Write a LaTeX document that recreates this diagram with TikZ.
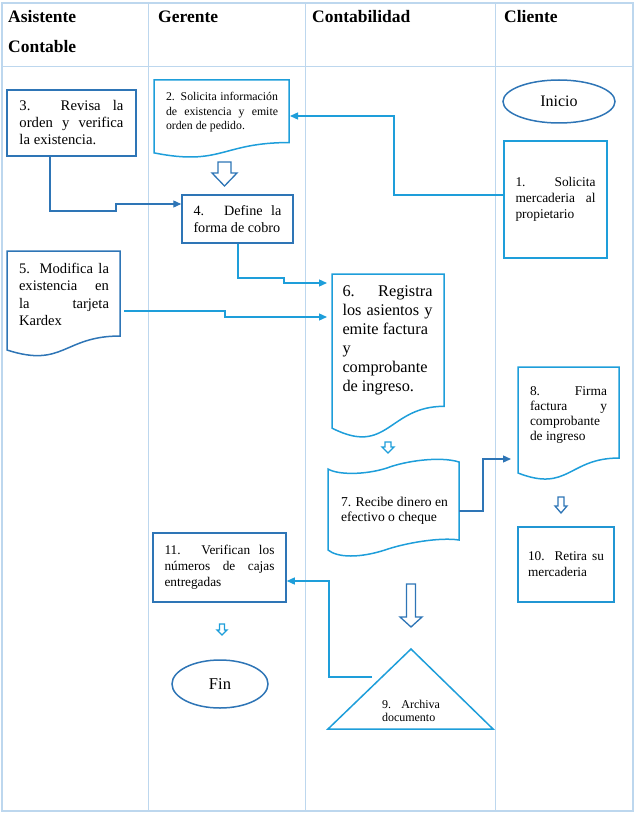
\documentclass[tikz,border=0pt]{standalone}
\usepackage{fontspec}
\setmainfont{Liberation Serif}
\usetikzlibrary{arrows.meta,shapes.geometric}
\definecolor{darkb}{RGB}{46,117,182}
\definecolor{lightb}{RGB}{30,158,218}
\definecolor{gridc}{RGB}{189,215,238}
\newcommand\fsz[2]{\fontsize{#1}{#2}\selectfont\hyphenpenalty=10000\relax}
\newcommand\docshape[5]{\draw[#5] (#1,#2) -- ({#1+#3},#2) -- ({#1+#3},{#2+0.802*#4}) .. controls ({#1+#3/2},{#2+0.802*#4}) and ({#1+#3/2},{#2+1.107*#4}) .. (#1,{#2+0.934*#4}) -- cycle;}
\newcommand\hollowarr[7]{\draw[draw=#7, line width=1.3pt, fill=white, line join=miter] ({#1-#5},#2) -- ({#1+#5},#2) -- ({#1+#5},#3) -- ({#1+#6},#3) -- (#1,#4) -- ({#1-#6},#3) -- ({#1-#5},#3) -- cycle;}
\tikzset{
  frameline/.style={draw=gridc, line width=0.9pt},
  hdr/.style={font=\fsz{17.5}{30}\bfseries, inner sep=0pt, anchor=base west},
  rbox/.style={draw, line width=1.5pt, inner sep=0pt, align=justify},
  shapeline/.style={line width=1.5pt},
  txt/.style={inner sep=0pt, align=justify},
  conn/.style={line width=1.3pt, -{Triangle[length=8pt,width=7pt]}},
}
\begin{document}
\begin{tikzpicture}[x=1pt,y=-1pt]
\useasboundingbox (0,0) rectangle (635,813);
% table
\draw[frameline, line width=1.6pt] (2,3) rectangle (633,811);
\foreach \xx in {148.5,305,495} \draw[frameline] (\xx,3) -- (\xx,811);
\draw[frameline] (2,66) -- (633,66);
\node[hdr] (h1) at (8,23) {Asistente};
\node[hdr] (h1b) at (8,53) {Contable};
\node[hdr] (h2) at (158,23) {Gerente};
\node[hdr] (h3) at (312,23) {Contabilidad};
\node[hdr] (h4) at (504,23) {Cliente};

% Inicio and 1
\node[draw=darkb, shapeline, ellipse, minimum width=112pt, minimum height=43pt, inner sep=0pt, font=\fsz{16}{18}] (ini) at (559,101.5) {Inicio};
\node[rbox, draw=lightb, minimum width=103pt, minimum height=117pt, text width=80pt, font=\fsz{13.4}{16}] (b1) at (555.5,199.5) {1. Solicita\linebreak mercaderia al\linebreak propietario};

% 2 document
\docshape{154}{80}{135}{78}{lightb, shapeline}
\node[txt, text width=112pt, font=\fsz{11.8}{14.5}] (t2) at (222,112.5) {2. Solicita información\linebreak de existencia y emite\linebreak orden de pedido.};
\coordinate (d2e) at (290,116);

% 3
\node[rbox, draw=darkb, minimum width=129pt, minimum height=66pt, text width=104pt, font=\fsz{14.7}{17}] (b3) at (71.5,123) {3. Revisa la\linebreak orden y verifica\linebreak la existencia.};

% 4
\node[rbox, draw=darkb, minimum width=111pt, minimum height=48pt, text width=88pt, font=\fsz{14.2}{16.5}] (b4) at (237.5,219) {4. Define la\linebreak forma de cobro};

% 5 document
\docshape{7}{251}{113}{106}{darkb, shapeline}
\node[txt, text width=90pt, font=\fsz{14.6}{17.5}] (t5) at (64,294.5) {5. Modifica la\linebreak existencia en\linebreak la tarjeta\linebreak Kardex};
\coordinate (d5r) at (124,311);

% 6 document
\docshape{332}{274}{112}{165}{lightb, shapeline}
\node[txt, text width=90pt, font=\fsz{16.3}{19}] (t6) at (387.5,340.5) {6. Registra\linebreak los asientos y\linebreak emite factura\newline y\newline comprobante\newline de ingreso.};
\coordinate (d6a) at (327,283);
\coordinate (d6b) at (327,317);

% 7 punched tape
\draw[lightb, shapeline] (328,469) .. controls (338,475) and (365,475) .. (387,468) .. controls (405,461) and (440,456) .. (459,462) -- (459,540) .. controls (440,537) and (405,543) .. (385,550) .. controls (360,558) and (338,558) .. (328,550) -- cycle;
\node[txt, text width=110pt, font=\fsz{13.6}{15.5}] (t7) at (396,510.5) {7. Recibe dinero en\newline efectivo o cheque};
\coordinate (d7r) at (459,511);

% 8 document
\docshape{518}{367}{101}{113.5}{lightb, shapeline}
\node[txt, text width=77pt, font=\fsz{13.4}{15.3}] (t8) at (568.5,415) {8. Firma\linebreak factura y\linebreak comprobante\newline de ingreso};
\coordinate (d8l) at (511,459);

% 9 triangle
\draw[lightb, shapeline, line join=miter] (411,649) -- (493,729) -- (328,729) -- cycle;
\node[txt, text width=58pt, font=\fsz{12}{13}] (t9) at (411,710.5) {9. Archiva\linebreak documento};
\coordinate (d9l) at (372,677);

% 10
\node[rbox, draw=lightb!80!darkb, minimum width=96pt, minimum height=75pt, text width=76pt, font=\fsz{13.3}{16}] (b10) at (566,564.5) {10. Retira su\linebreak mercaderia};

% 11
\node[rbox, draw=darkb, minimum width=133pt, minimum height=69pt, text width=110pt, font=\fsz{13.3}{16}] (b11) at (219.5,567.5) {11. Verifican los\linebreak números de cajas\linebreak entregadas};

% Fin
\node[draw=darkb, shapeline, ellipse, minimum width=96pt, minimum height=48pt, inner sep=0pt, font=\fsz{16.5}{18}] (fin) at (220,684) {Fin};

% hollow arrows
\hollowarr{224.5}{162}{173}{186}{6.5}{12.5}{darkb}
\hollowarr{388}{442}{447}{453}{3}{6}{lightb}
\hollowarr{411}{584}{617}{627}{4.5}{11}{darkb}
\hollowarr{561}{497}{506}{513}{3}{6}{darkb}
\hollowarr{222}{624}{630}{635}{2.5}{5}{lightb}

% connectors
\draw[conn, lightb] (b1.west |- 0,195) -- (394,195) |- (d2e);
\draw[conn, darkb] (b3.south -| 50,0) |- (116,211) |- (b4.west |- 0,204);
\draw[conn, lightb] (b4.south -| 238,0) |- (284,278) |- (d6a);
\draw[conn, lightb] (d5r) -| (225,317) -- (d6b);
\draw[conn, darkb] (d7r) -| (483,459) -- (d8l);
\draw[conn, lightb] (d9l) -| (329,581) -- (b11.east |- 0,581);
\end{tikzpicture}
\end{document}
